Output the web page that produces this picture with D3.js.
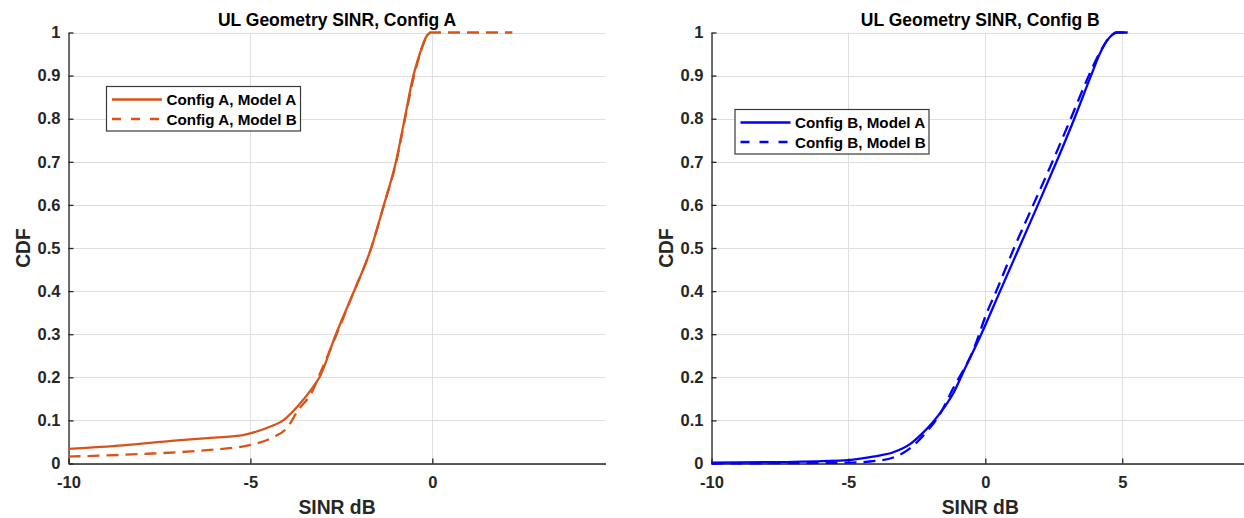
<!DOCTYPE html>
<html>
<head>
<meta charset="utf-8">
<script src="https://cdn.jsdelivr.net/npm/d3@7"></script>
<style>
  body { margin: 0; background: #fff; }
  svg { display: block; font-family: "Liberation Sans", Arial, sans-serif; }
  .tick text { font-size: 16.5px; font-weight: bold; fill: #262626; }
</style>
</head>
<body>
<div id="chart"></div>
<script>
(function(d3) {
    "use strict";

    // Config A (SINR dB vs CDF)
    var aModelA_x   = [-10, -8.5, -7.1, -6, -5.2, -5.0, -4.5, -4.1, -3.7, -3.3, -3.1, -2.65, -2.2, -1.68, -1.33, -1.0, -0.76, -0.52, -0.34, -0.17, -0.06];
    var aModelA_cdf = [0.034, 0.042, 0.053, 0.060, 0.066, 0.070, 0.084, 0.100, 0.133, 0.175, 0.20, 0.30, 0.39, 0.5, 0.6, 0.7, 0.8, 0.9, 0.952, 0.99, 1.0];
    var aModelB_x   = [-10, -8, -6.2, -5.0, -4.4, -4.0, -3.7, -3.3, -3.08, -2.63, -2.2, -1.68, -1.33, -0.99, -0.75, -0.5, -0.33, -0.16, -0.05, 2.2];
    var aModelB_cdf = [0.016, 0.022, 0.031, 0.043, 0.060, 0.082, 0.122, 0.167, 0.21, 0.30, 0.39, 0.5, 0.6, 0.7, 0.8, 0.9, 0.952, 0.99, 1.0, 1.0];

    // Config B, right panel
    var bModelA_x   = [-10, -7, -5, -4.1, -3.36, -2.75, -2.3, -1.9, -1.5, -1.17, -0.8, -0.19, 0.54, 1.23, 1.92, 2.6, 3.25, 3.86, 4.19, 4.56, 4.8, 5.2];
    var bModelA_cdf = [0.002, 0.004, 0.008, 0.016, 0.026, 0.045, 0.07, 0.097, 0.13, 0.163, 0.213, 0.294, 0.4, 0.5, 0.6, 0.7, 0.8, 0.9, 0.952, 0.99, 1.0, 1.0];
    var bModelB_x   = [-10, -7, -5, -4, -3.36, -2.75, -2.14, -1.7, -1.17, -0.44, 0.05, 0.4, 1.05, 1.75, 2.45, 3.12, 3.78, 4.17, 4.55, 4.8, 5.2];
    var bModelB_cdf = [0.0, 0.001, 0.002, 0.006, 0.014, 0.035, 0.074, 0.11, 0.175, 0.263, 0.349, 0.4, 0.5, 0.6, 0.7, 0.8, 0.9, 0.952, 0.99, 1.0, 1.0];

    var yTicks = [0, 0.1, 0.2, 0.3, 0.4, 0.5, 0.6, 0.7, 0.8, 0.9, 1];
    var xTicksA = [-10, -5, 0];
    var xTicksB = [-10, -5, 0, 5];

    var orange = "#d95319", blue = "#0000ff";

    var panels = [{
        title: "UL Geometry SINR, Config A",
        left: 68.5, right: 605.5, xDomain: [-10, 4.76], xTicks: xTicksA,
        legendX: 106.5, legendY: 86.5,
        series: [
            {name: "Config A, Model A", x: aModelA_x, y: aModelA_cdf, color: orange, dash: null},
            {name: "Config A, Model B", x: aModelB_x, y: aModelB_cdf, color: orange, dash: "12,7"}
        ]
    }, {
        title: "UL Geometry SINR, Config B",
        left: 711.5, right: 1249, xDomain: [-10, 9.63], xTicks: xTicksB,
        legendX: 735, legendY: 109.5,
        series: [
            {name: "Config B, Model A", x: bModelA_x, y: bModelA_cdf, color: blue, dash: null},
            {name: "Config B, Model B", x: bModelB_x, y: bModelB_cdf, color: blue, dash: "12,7"}
        ]
    }];

    var width = 1244, height = 518,
        top = 32.5, bottom = 463.5;

    var svg = d3.select("#chart").append("svg")
        .attr("width", width)
        .attr("height", height);

    var y = d3.scaleLinear().domain([0, 1]).range([bottom, top]);

    panels.forEach(function(p) {
        var x = d3.scaleLinear().domain(p.xDomain).range([p.left, p.right]);
        var g = svg.append("g");

        // grid
        g.append("g").selectAll("line.gx")
            .data(p.xTicks).enter().append("line")
            .attr("x1", d => Math.round(x(d)) + 0.5).attr("x2", d => Math.round(x(d)) + 0.5)
            .attr("y1", top).attr("y2", bottom)
            .attr("stroke", "#dfdfdf").attr("stroke-width", 1);
        g.append("g").selectAll("line.gy")
            .data(yTicks).enter().append("line")
            .attr("x1", p.left).attr("x2", p.right)
            .attr("y1", d => Math.round(y(d)) + 0.5).attr("y2", d => Math.round(y(d)) + 0.5)
            .attr("stroke", "#dfdfdf").attr("stroke-width", 1);

        // axes, ticks pointing inward like matlab
        var xAxis = d3.axisBottom(x).tickValues(p.xTicks).tickFormat(d => String(d))
            .tickSizeInner(-5).tickSizeOuter(0).tickPadding(13);
        var yAxis = d3.axisLeft(y).tickValues(yTicks).tickFormat(d => String(d))
            .tickSizeInner(-5).tickSizeOuter(0).tickPadding(8);

        g.append("g")
            .attr("transform", "translate(0," + bottom + ")")
            .call(xAxis)
            .call(a => a.selectAll("path, line").attr("stroke", "#262626").attr("stroke-width", 1.3));
        g.append("g")
            .attr("transform", "translate(" + p.left + ",0)")
            .call(yAxis)
            .call(a => a.selectAll("path, line").attr("stroke", "#262626").attr("stroke-width", 1.3));

        // curves
        var line = d3.line()
            .x(d => x(d[0]))
            .y(d => y(d[1]))
            .curve(d3.curveMonotoneX);

        p.series.slice().reverse().forEach(function(s) {
            g.append("path")
                .datum(d3.zip(s.x, s.y))
                .attr("d", line)
                .attr("fill", "none")
                .attr("stroke", s.color)
                .attr("stroke-width", 2.3)
                .attr("stroke-dasharray", s.dash);
        });

        // labels
        var cx = (p.left + p.right) / 2;
        g.append("text")
            .attr("x", cx).attr("y", 25.5)
            .attr("text-anchor", "middle")
            .style("font-size", "17.5px").style("font-weight", "bold")
            .attr("fill", "#000")
            .text(p.title);
        g.append("text")
            .attr("x", cx).attr("y", 514)
            .attr("text-anchor", "middle")
            .style("font-size", "19.3px").style("font-weight", "bold")
            .attr("fill", "#262626")
            .text("SINR dB");
        g.append("text")
            .attr("transform", "translate(" + (p.left - 39) + "," + ((top + bottom) / 2) + ") rotate(-90)")
            .attr("text-anchor", "middle")
            .style("font-size", "19.3px").style("font-weight", "bold")
            .attr("fill", "#262626")
            .text("CDF");

        // legend
        var lg = g.append("g").attr("transform", "translate(" + p.legendX + "," + p.legendY + ")");
        lg.append("rect")
            .attr("width", 194).attr("height", 44.5)
            .attr("fill", "#fff")
            .attr("stroke", "#3a3a3a").attr("stroke-width", 1.2);
        p.series.forEach(function(s, i) {
            var ly = 13 + i * 19.5;
            lg.append("line")
                .attr("x1", 5.5).attr("x2", 55.5)
                .attr("y1", ly).attr("y2", ly)
                .attr("stroke", s.color).attr("stroke-width", 2.3)
                .attr("stroke-dasharray", s.dash ? "9,10" : null);
            lg.append("text")
                .attr("x", 60).attr("y", ly + 5.5)
                .style("font-size", "15.2px").style("font-weight", "bold")
                .attr("fill", "#000")
                .text(s.name);
        });
    });

})(d3);
</script>
</body>
</html>
